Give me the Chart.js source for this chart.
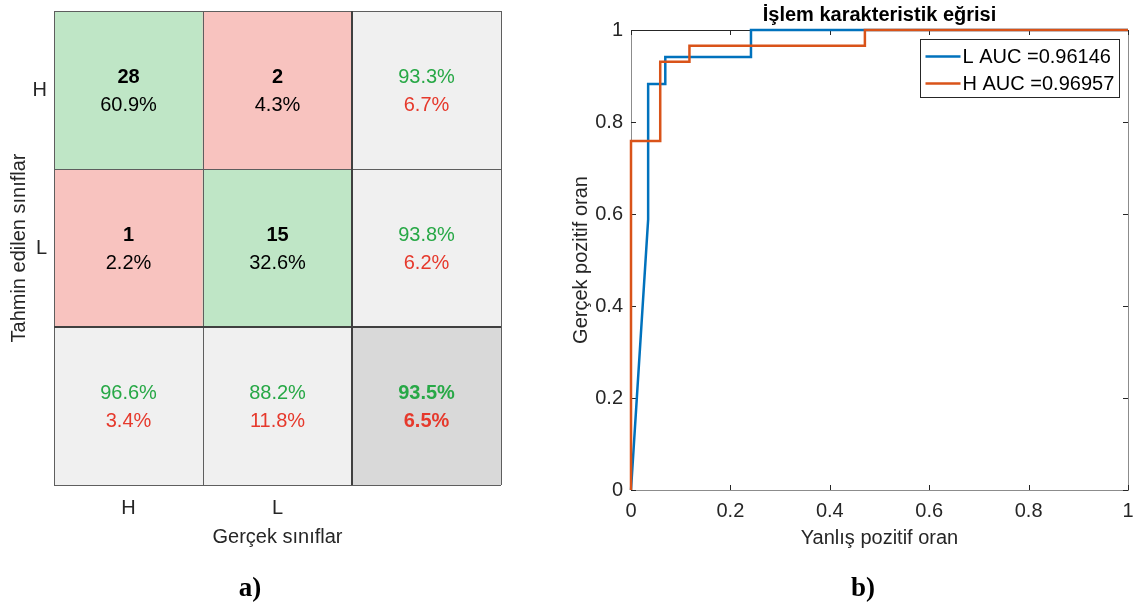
<!DOCTYPE html>
<html>
<head>
<meta charset="utf-8">
<script src="https://cdn.jsdelivr.net/npm/chart.js@4.4.1/dist/chart.umd.min.js"></script>
<style>
    html, body { margin: 0; padding: 0; background: #fff; }
    #wrap { position: relative; width: 1134px; height: 602px; overflow: hidden; }
    .panel { position: absolute; top: 0; height: 602px; }
    #left { left: 0; width: 560px; }
    #right { left: 560px; width: 574px; }
    .cap {
        position: absolute;
        font-family: "Liberation Serif", "Times New Roman", serif;
        font-weight: bold;
        font-size: 27px;
        line-height: 1;
        color: #000;
        transform: translateX(-50%);
    }
</style>
</head>
<body>
<div id="wrap">
    <div class="panel" id="left"><canvas id="cm"></canvas></div>
    <div class="panel" id="right"><canvas id="roc"></canvas></div>
    <div class="cap" style="left:250px; top:574px;">a)</div>
    <div class="cap" style="left:863px; top:574px;">b)</div>
</div>
<script>
// Confusion matrix values (a)
const trueClasses = ['H', 'L'];
const predClasses = ['H', 'L'];
const cellCounts = [[28, 2], [1, 15]];
const cellPercents = [['60.9%', '4.3%'], ['2.2%', '32.6%']];
const rowCorrect = ['93.3%', '93.8%'];
const rowWrong = ['6.7%', '6.2%'];
const colCorrect = ['96.6%', '88.2%'];
const colWrong = ['3.4%', '11.8%'];
const totalCorrect = '93.5%';
const totalWrong = '6.5%';

// ROC curves (b)
const rocL_fpr = [0, 0.0345, 0.0345, 0.069, 0.069, 0.2414, 0.2414, 1];
const rocL_tpr = [0, 0.5882, 0.8824, 0.8824, 0.9412, 0.9412, 1, 1];
const rocH_fpr = [0, 0, 0.0588, 0.0588, 0.1176, 0.1176, 0.4706, 0.4706, 1];
const rocH_tpr = [0, 0.7586, 0.7586, 0.931, 0.931, 0.9655, 0.9655, 1, 1];
const rocLabels = ['L AUC =0.96146', 'H AUC =0.96957'];
const rateTicks = [0, 0.2, 0.4, 0.6, 0.8, 1];

const FONT = '"Liberation Sans", Arial, Helvetica, sans-serif';
Chart.defaults.font.family = FONT;
Chart.defaults.font.size = 20;
Chart.defaults.color = '#262626';

const GREEN_CELL = '#bfe6c6';
const RED_CELL = '#f8c3bf';
const GRAY_CELL = '#f0f0f0';
const DARK_CELL = '#d9d9d9';
const GREEN_TXT = '#27a846';
const RED_TXT = '#e6392c';

// keep the plot box where we put it, labels may hang over the edges
const noScalePadding = (s) => {
    s.paddingTop = 0;
    s.paddingBottom = 0;
    s.paddingLeft = 0;
    s.paddingRight = 0;
};

/* ---------- a) confusion matrix ---------- */
const n = trueClasses.length;
const colLabels = [...trueClasses, ''];

// one floating-bar dataset per matrix row
const rowDatasets = [];
for (let r = 0; r <= n; r++) {
    const colors = [];
    const data = [];
    for (let c = 0; c <= n; c++) {
        data.push([r, r + 1]);
        if (r === n && c === n) colors.push(DARK_CELL);
        else if (r === n || c === n) colors.push(GRAY_CELL);
        else colors.push(r === c ? GREEN_CELL : RED_CELL);
    }
    rowDatasets.push({
        data,
        backgroundColor: colors,
        borderWidth: 0,
        grouped: false,
        barPercentage: 1,
        categoryPercentage: 1
    });
}

const matrixText = {
    id: 'matrixText',
    afterDatasetsDraw(chart) {
        const { ctx, scales: { x, y } } = chart;
        ctx.save();

        // cell borders
        for (let i = 0; i <= n + 1; i++) {
            const px = Math.round(x.getPixelForValue(i - 0.5));
            const py = Math.round(y.getPixelForValue(i));
            const thick = i === n;
            ctx.strokeStyle = thick ? '#404040' : '#5e5e5e';
            ctx.lineWidth = thick ? 2 : 1;
            const off = thick ? 0 : 0.5;
            ctx.beginPath();
            ctx.moveTo(px + off, y.getPixelForValue(0));
            ctx.lineTo(px + off, y.getPixelForValue(n + 1));
            ctx.stroke();
            ctx.beginPath();
            ctx.moveTo(x.getPixelForValue(-0.5), py + off);
            ctx.lineTo(x.getPixelForValue(n + 0.5), py + off);
            ctx.stroke();
        }

        ctx.textAlign = 'center';
        ctx.textBaseline = 'middle';
        const put = (txt, c, r, dy, color, bold) => {
            ctx.fillStyle = color;
            ctx.font = (bold ? 'bold ' : '') + '20px ' + FONT;
            ctx.fillText(txt, x.getPixelForValue(c), y.getPixelForValue(r + 0.5) + dy);
        };

        for (let r = 0; r < n; r++) {
            for (let c = 0; c < n; c++) {
                put(String(cellCounts[r][c]), c, r, -13, '#000', true);
                put(cellPercents[r][c], c, r, 15, '#000', false);
            }
            put(rowCorrect[r], n, r, -13, GREEN_TXT, false);
            put(rowWrong[r], n, r, 15, RED_TXT, false);
        }
        for (let c = 0; c < n; c++) {
            put(colCorrect[c], c, n, -13, GREEN_TXT, false);
            put(colWrong[c], c, n, 15, RED_TXT, false);
        }
        put(totalCorrect, n, n, -13, GREEN_TXT, true);
        put(totalWrong, n, n, 15, RED_TXT, true);
        ctx.restore();
    }
};

new Chart(document.getElementById('cm'), {
    type: 'bar',
    data: { labels: colLabels, datasets: rowDatasets },
    options: {
        responsive: true,
        maintainAspectRatio: false,
        animation: false,
        events: [],
        layout: { padding: { left: 0, top: 11, right: 59, bottom: 53 } },
        plugins: { legend: { display: false }, tooltip: { enabled: false } },
        scales: {
            x: {
                type: 'category',
                grid: { display: false, drawTicks: false },
                border: { display: false },
                ticks: { padding: 11, color: '#262626', font: { size: 20 } },
                title: {
                    display: true,
                    text: 'Gerçek sınıflar',
                    color: '#262626',
                    font: { size: 20 },
                    padding: { top: 0, bottom: 0 }
                },
                afterFit: (s) => { s.height = 64; noScalePadding(s); }
            },
            y: {
                type: 'linear',
                min: 0,
                max: n + 1,
                reverse: true,
                grid: { display: false, drawTicks: false },
                border: { display: false },
                afterBuildTicks: (s) => {
                    s.ticks = predClasses.map((_, i) => ({ value: i + 0.5 }));
                },
                ticks: {
                    padding: 7,
                    color: '#262626',
                    font: { size: 20 },
                    callback: (v) => predClasses[Math.floor(v)] || ''
                },
                title: {
                    display: true,
                    text: 'Tahmin edilen sınıflar',
                    color: '#262626',
                    font: { size: 20 },
                    padding: { top: 7, bottom: 0 }
                },
                afterFit: (s) => { s.width = 54; noScalePadding(s); }
            }
        }
    },
    plugins: [matrixText]
});

/* ---------- b) ROC curve ---------- */
const toPoints = (xs, ys) => xs.map((v, i) => ({ x: v, y: ys[i] }));

const axesBox = {
    id: 'axesBox',
    beforeDatasetsDraw(chart) {
        const { ctx, chartArea: a, scales: { x, y } } = chart;
        ctx.save();
        ctx.lineWidth = 1;
        ctx.strokeStyle = '#8c8c8c';
        ctx.strokeRect(a.left + 0.5, a.top + 0.5, a.right - a.left, a.bottom - a.top);
        ctx.strokeStyle = '#262626';
        ctx.beginPath();
        ctx.moveTo(a.left, a.top + 0.5);
        ctx.lineTo(a.right + 1, a.top + 0.5);
        ctx.stroke();
        ctx.beginPath();
        x.ticks.forEach((t) => {
            const px = Math.round(x.getPixelForValue(t.value)) + 0.5;
            ctx.moveTo(px, a.bottom);
            ctx.lineTo(px, a.bottom - 5);
            ctx.moveTo(px, a.top);
            ctx.lineTo(px, a.top + 5);
        });
        y.ticks.forEach((t) => {
            const py = Math.round(y.getPixelForValue(t.value)) + 0.5;
            ctx.moveTo(a.left, py);
            ctx.lineTo(a.left + 5, py);
            ctx.moveTo(a.right, py);
            ctx.lineTo(a.right - 5, py);
        });
        ctx.stroke();
        ctx.restore();
    }
};

const boxLegend = {
    id: 'boxLegend',
    afterDatasetsDraw(chart) {
        const { ctx, chartArea: a } = chart;
        const sets = chart.data.datasets;
        ctx.save();
        ctx.font = '20px ' + FONT;
        const textW = Math.max(...rocLabels.map((t) => ctx.measureText(t).width));
        const w = Math.round(textW + 47);
        const h = 58;
        const bx = Math.round(a.right - 9 - w) + 0.5;
        const by = Math.round(a.top + 9) + 0.5;
        ctx.fillStyle = '#fff';
        ctx.fillRect(bx, by, w, h);
        ctx.strokeStyle = '#262626';
        ctx.lineWidth = 1;
        ctx.strokeRect(bx, by, w, h);
        ctx.textBaseline = 'middle';
        ctx.textAlign = 'left';
        rocLabels.forEach((label, i) => {
            const ly = by + 17 + i * 27;
            ctx.strokeStyle = sets[i].borderColor;
            ctx.lineWidth = 2.5;
            ctx.beginPath();
            ctx.moveTo(bx + 5, ly);
            ctx.lineTo(bx + 40, ly);
            ctx.stroke();
            ctx.fillStyle = '#000';
            ctx.fillText(label, bx + 42, ly + 1);
        });
        ctx.restore();
    }
};

new Chart(document.getElementById('roc'), {
    type: 'line',
    data: {
        datasets: [
            {
                label: rocLabels[0],
                data: toPoints(rocL_fpr, rocL_tpr),
                borderColor: '#0072bd',
                borderWidth: 2.5,
                pointRadius: 0,
                tension: 0,
                fill: false,
                clip: false,
                order: 1
            },
            {
                label: rocLabels[1],
                data: toPoints(rocH_fpr, rocH_tpr),
                borderColor: '#d95319',
                borderWidth: 2.5,
                pointRadius: 0,
                tension: 0,
                fill: false,
                clip: false,
                order: 0
            }
        ]
    },
    options: {
        responsive: true,
        maintainAspectRatio: false,
        animation: false,
        events: [],
        layout: { padding: { left: 0, top: 0, right: 6, bottom: 52 } },
        plugins: {
            legend: { display: false },
            tooltip: { enabled: false },
            title: {
                display: true,
                fullSize: false,
                text: 'İşlem karakteristik eğrisi',
                color: '#000',
                font: { size: 20, weight: 'bold' },
                padding: { top: 3, bottom: 3 }
            }
        },
        scales: {
            x: {
                type: 'linear',
                min: 0,
                max: 1,
                grid: { display: false, drawTicks: false },
                border: { display: false },
                afterBuildTicks: (s) => { s.ticks = rateTicks.map((v) => ({ value: v })); },
                ticks: { padding: 9, color: '#262626', font: { size: 20 }, maxRotation: 0, callback: (v) => String(v) },
                title: {
                    display: true,
                    text: 'Yanlış pozitif oran',
                    color: '#262626',
                    font: { size: 20 },
                    padding: { top: 0, bottom: 0 }
                },
                afterFit: (s) => { s.height = 60; noScalePadding(s); }
            },
            y: {
                type: 'linear',
                min: 0,
                max: 1,
                grid: { display: false, drawTicks: false },
                border: { display: false },
                afterBuildTicks: (s) => { s.ticks = rateTicks.map((v) => ({ value: v })); },
                ticks: { padding: 8, color: '#262626', font: { size: 20 }, callback: (v) => String(v) },
                title: {
                    display: true,
                    text: 'Gerçek pozitif oran',
                    color: '#262626',
                    font: { size: 20 },
                    padding: { top: 9, bottom: 0 }
                },
                afterFit: (s) => { s.width = 71; noScalePadding(s); }
            }
        }
    },
    plugins: [axesBox, boxLegend]
});
</script>
</body>
</html>
